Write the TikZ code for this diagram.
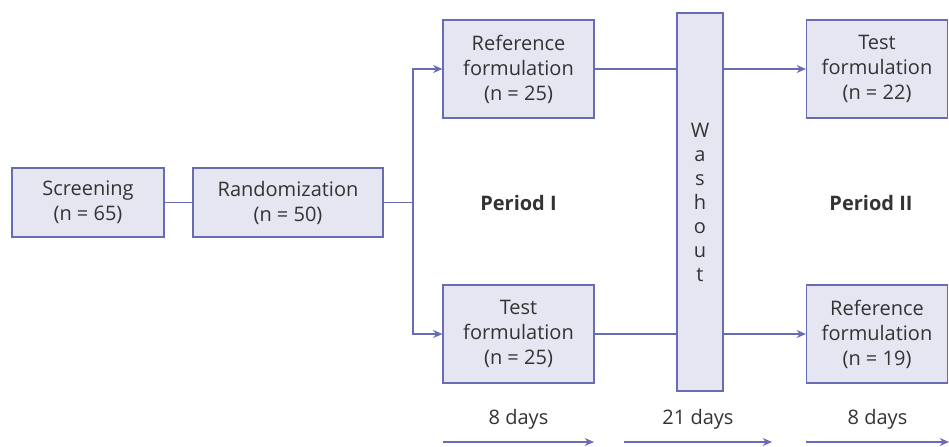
\documentclass[tikz,border=0pt]{standalone}
\usepackage{fontspec}
\setmainfont{Open Sans}
\usetikzlibrary{arrows.meta}

\definecolor{boxline}{RGB}{104,108,178}
\definecolor{boxfill}{RGB}{229,230,242}
\definecolor{txtgray}{RGB}{51,51,51}

\begin{document}
\begin{tikzpicture}[x=0.75pt,y=-0.75pt,
  box/.style={draw=boxline,fill=boxfill,line width=0.8pt,align=center,
    inner sep=0pt,text=txtgray,font=\fontsize{15}{18.75}\selectfont},
  armbox/.style={box,minimum width=113.25pt,minimum height=73.5pt},
  link/.style={draw=boxline,line width=0.9pt},
  arr/.style={link,-{Stealth[length=7pt,width=6pt]}},
  label/.style={text=txtgray,font=\fontsize{15}{18}\selectfont}]

\useasboundingbox (0,0) rectangle (949,446);

% Screening and randomization
\node[box,minimum width=114pt,minimum height=51.75pt] (screen) at (88,202.5) {Screening\\(n = 65)};
\node[box,minimum width=142.5pt,minimum height=51.75pt] (rand) at (288,202.5) {Randomization\\(n = 50)};
\coordinate (split) at (413,202.5);

% Period I
\node[armbox] (ref1) at (518.5,69) {Reference\\formulation\\(n = 25)};
\node[armbox] (test1) at (518.5,334) {Test\\formulation\\(n = 25)};
\node[label,font=\fontsize{15}{18}\selectfont\bfseries] (per1) at (518.5,202.5) {Period I};

% Washout
\node[box,minimum width=34.5pt,minimum height=283.5pt,font=\fontsize{15}{18}\selectfont] (wash) at (700,202) {W\\a\\s\\h\\o\\u\\t};

% Period II
\node[armbox,minimum width=105.75pt] (test2) at (877,69) {Test\\formulation\\(n = 22)};
\node[armbox,minimum width=105.75pt] (ref2) at (877,334) {Reference\\formulation\\(n = 19)};
\node[label,font=\fontsize{15}{18}\selectfont\bfseries] (per2) at (871,202.5) {Period II};

% Connectors
\draw[link] (screen) -- (rand);
\draw[link] (rand) -- (split);
\draw[arr] (split) |- (ref1);
\draw[arr] (split) |- (test1);
\draw[link] (ref1) -- (ref1 -| wash.west);
\draw[link] (test1) -- (test1 -| wash.west);
\draw[arr] (test2 -| wash.east) -- (test2);
\draw[arr] (ref2 -| wash.east) -- (ref2);

% Durations
\foreach \name/\xa/\xb/\txt in {d1/443/594/8 days, d2/624/772/21 days, d3/806/949/8 days}{
  \coordinate (\name a) at (\xa,442);
  \coordinate (\name b) at (\xb,442);
  \node[label] (\name) at ({(\xa+\xb)/2},419) {\txt};
  \draw[arr] (\name a) -- (\name b);
}

\end{tikzpicture}
\end{document}
